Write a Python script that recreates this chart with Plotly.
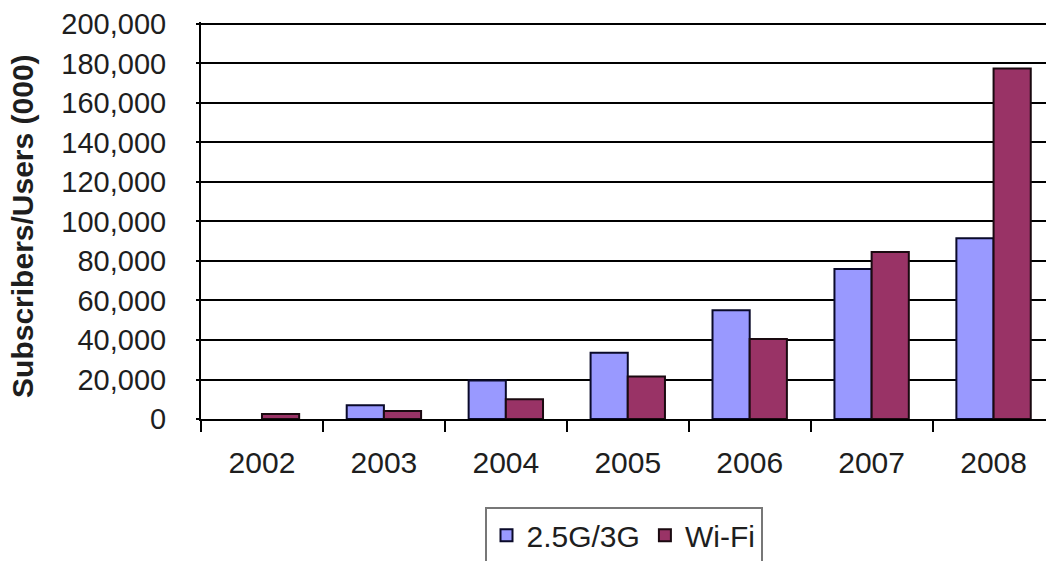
import plotly.graph_objects as go

# Yearly subscriber/user counts, in thousands
years = ["2002", "2003", "2004", "2005", "2006", "2007", "2008"]
cellular_3g = [None, 7000, 19500, 33500, 55000, 76000, 91500]
wifi = [2500, 4000, 10000, 21500, 40500, 84500, 177500]
y_ticks = [0, 20000, 40000, 60000, 80000, 100000, 120000, 140000, 160000, 180000, 200000]
y_tick_text = [f"{v:,}" for v in y_ticks]
y_title = "Subscribers/Users (000)"

FONT = "Liberation Sans, Arial, sans-serif"
TEXT = "#1e1e1e"

fig = go.Figure()
fig.add_trace(go.Bar(
    name="2.5G/3G", x=years, y=cellular_3g,
    marker=dict(color="#9999FF", line=dict(color="#0a0a2a", width=2)),
))
fig.add_trace(go.Bar(
    name="Wi-Fi", x=years, y=wifi,
    marker=dict(color="#993366", line=dict(color="#1a0a10", width=2)),
))

fig.update_layout(
    width=1046, height=561,
    margin=dict(l=201, r=0, t=22, b=142, autoexpand=False),
    paper_bgcolor="white", plot_bgcolor="white",
    barmode="group", bargap=0.39, bargroupgap=0,
    font=dict(family=FONT, size=29, color=TEXT),
    showlegend=True,
    legend=dict(
        orientation="h", x=0.5, xanchor="center", y=-0.222, yanchor="top",
        bordercolor="#777777", borderwidth=2, bgcolor="white",
        font=dict(family=FONT, size=30, color=TEXT),
        itemwidth=30, tracegroupgap=0,
    ),
)

# vertical axis title placed as a rotated annotation left of the tick labels
fig.add_annotation(
    text=f"<b>{y_title}</b>", textangle=-90,
    xref="paper", yref="paper", x=-0.212, y=0.486,
    xanchor="center", yanchor="middle", showarrow=False,
    font=dict(family=FONT, size=30, color=TEXT),
)

fig.update_xaxes(
    type="category", range=[-0.5, 6.43], automargin=False,
    showline=True, linecolor="black", linewidth=2,
    ticks="outside", tickson="boundaries", ticklen=11, tickwidth=2, tickcolor="black",
    showgrid=False, ticklabelstandoff=16,
    tickfont=dict(family=FONT, size=30, color=TEXT),
)
fig.update_yaxes(
    range=[0, 201000], automargin=False,
    tickvals=y_ticks, ticktext=y_tick_text,
    showline=True, linecolor="black", linewidth=2,
    ticks="outside", ticklen=3, tickwidth=2, tickcolor="black",
    showgrid=True, gridcolor="black", gridwidth=2,
    zeroline=False, ticklabelstandoff=24,
    tickfont=dict(family=FONT, size=29, color=TEXT),
)

fig.write_html("out.html")
